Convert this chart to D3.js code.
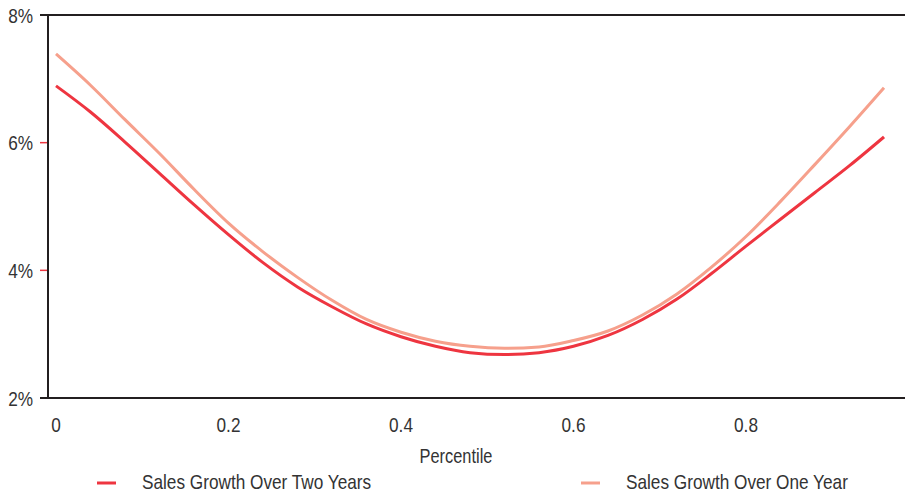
<!DOCTYPE html>
<html><head><meta charset="utf-8">
<script src="https://cdn.jsdelivr.net/npm/d3@7"></script>
<style>body{margin:0;background:#fff}svg{display:block}</style>
</head><body>
<svg id="c" width="905" height="495"></svg>
<script>
const percentiles = [0,0.04,0.08,0.12,0.16,0.2,0.24,0.28,0.32,0.36,0.4,0.44,0.48,0.52,0.56,0.6,0.64,0.68,0.72,0.76,0.8,0.84,0.88,0.92,0.96];
const twoYears = [6.89,6.48,6.01,5.52,5.03,4.56,4.12,3.74,3.43,3.16,2.96,2.81,2.71,2.68,2.71,2.81,2.98,3.23,3.55,3.95,4.38,4.80,5.22,5.64,6.09];
const oneYear  = [7.39,6.90,6.36,5.83,5.27,4.74,4.29,3.89,3.53,3.23,3.03,2.89,2.81,2.78,2.80,2.90,3.05,3.30,3.63,4.05,4.53,5.08,5.66,6.25,6.86];
const yTicks = [2,4,6,8];
const xTicks = [0,0.2,0.4,0.6,0.8];
const seriesNames = ["Sales Growth Over Two Years","Sales Growth Over One Year"];
const colors = ["#ee3540","#f6a08c"];

const svg = d3.select("#c");
const font = "'Liberation Sans',Arial,sans-serif";
const SX = 0.82;
const x = d3.scaleLinear().domain([0,1]).range([56,918.5]);
const y = d3.scaleLinear().domain([2,8]).range([398,15]);
const dark = "#231f20";

function txt(g, tx, ty, s, anchor, size){
  return g.append("text").attr("transform",`translate(${tx},${ty}) scale(${SX},1)`)
    .attr("text-anchor",anchor).attr("font-family",font).attr("font-size",size)
    .attr("fill","#333").text(s);
}

svg.append("g").selectAll("line").data(yTicks.filter(d=>d>2&&d<8)).join("line")
  .attr("x1",40).attr("x2",48).attr("y1",d=>y(d)).attr("y2",d=>y(d))
  .attr("stroke",colors[0]).attr("stroke-width",1.5);
svg.append("line").attr("x1",40).attr("x2",905).attr("y1",y(8)).attr("y2",y(8)).attr("stroke",dark).attr("stroke-width",2);
svg.append("line").attr("x1",40).attr("x2",905).attr("y1",y(2)).attr("y2",y(2)).attr("stroke",dark).attr("stroke-width",2);
svg.append("line").attr("x1",48).attr("x2",48).attr("y1",y(8)).attr("y2",y(2)).attr("stroke",dark).attr("stroke-width",2);

const tg = svg.append("g");
yTicks.forEach(d=>txt(tg,33,y(d)+7.5,d+"%","end",21));
xTicks.forEach(d=>txt(tg,x(d),432,d===0?"0":d3.format(".1f")(d),"middle",21));
txt(tg,456,463,"Percentile","middle",20);

const line = d3.line().x((d,i)=>x(percentiles[i])).y(d=>y(d)).curve(d3.curveMonotoneX);
[oneYear,twoYears].forEach((s,k)=>{
  const c = k===0?colors[1]:colors[0];
  svg.append("path").attr("d",line(s)).attr("fill","none").attr("stroke",c).attr("stroke-width",3);
});

const leg = [{x:97,tx:142},{x:581,tx:626}];
seriesNames.forEach((n,i)=>{
  svg.append("line").attr("x1",leg[i].x).attr("x2",leg[i].x+19).attr("y1",483).attr("y2",483)
    .attr("stroke",colors[i]).attr("stroke-width",3);
  txt(svg,leg[i].tx,489,n,"start",21);
});
</script>
</body></html>
